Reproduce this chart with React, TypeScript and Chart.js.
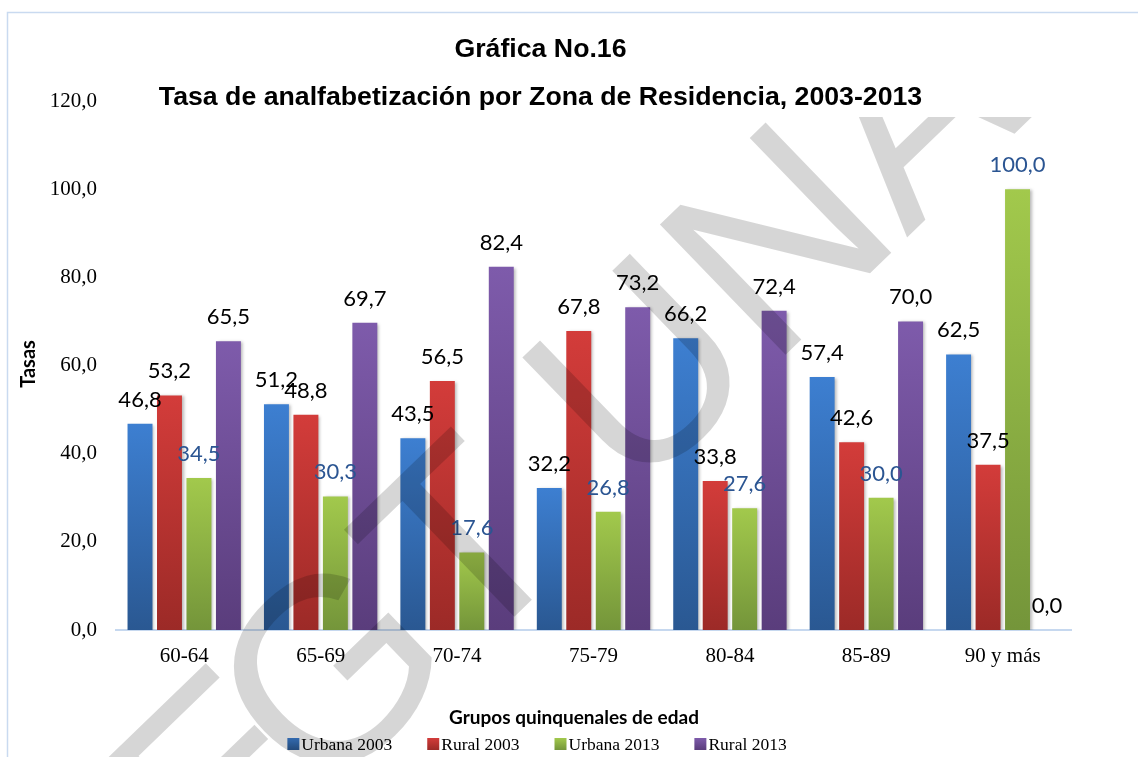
import React, { useEffect, useRef } from 'react';
import { Chart, registerables } from 'chart.js';

Chart.register(...registerables);

const categories = ['60-64', '65-69', '70-74', '75-79', '80-84', '85-89', '90 y más'];
const urbana2003 = [46.8, 51.2, 43.5, 32.2, 66.2, 57.4, 62.5];
const rural2003 = [53.2, 48.8, 56.5, 67.8, 33.8, 42.6, 37.5];
const urbana2013 = [34.5, 30.3, 17.6, 26.8, 27.6, 30.0, 100.0];
const rural2013 = [65.5, 69.7, 82.4, 73.2, 72.4, 70.0, 0.0];
const seriesNames = ['Urbana 2003', 'Rural 2003', 'Urbana 2013', 'Rural 2013'];
const yTickValues = [0, 20, 40, 60, 80, 100, 120];

const titleLine1 = 'Gráfica No.16';
const titleLine2 = 'Tasa de analfabetización por Zona de Residencia, 2003-2013';
const yAxisTitle = 'Tasas';
const xAxisTitle = 'Grupos quinquenales de edad';
const watermarkHead = 'E';
const watermarkTail = 'GT UNA';

const palette = [
  { top: '#3d7fd1', bottom: '#2a5892', mid: '#3570b8', label: '#000000' },
  { top: '#d33c3a', bottom: '#9c2a27', mid: '#bb3431', label: '#000000' },
  { top: '#a2c94c', bottom: '#74953a', mid: '#8db243', label: '#2b5592' },
  { top: '#7e5bab', bottom: '#5a3d7c', mid: '#6d4e96', label: '#000000' },
];

const fmt = (v: number) => v.toFixed(1).replace('.', ',');

const gradientFor = (i: number) => (ctx: any) => {
  const p = palette[i];
  const chart = ctx.chart;
  const ys = chart.scales && chart.scales.y;
  if (!ys || ctx.type !== 'data') return p.mid;
  const v = ctx.raw as number;
  const t = ys.getPixelForValue(v);
  const b = ys.getPixelForValue(0);
  if (!isFinite(t) || !isFinite(b) || Math.abs(b - t) < 1) return p.mid;
  const g = chart.ctx.createLinearGradient(0, t, 0, b);
  g.addColorStop(0, p.top);
  g.addColorStop(1, p.bottom);
  return g;
};

const SERIF = '"Liberation Serif", "Times New Roman", serif';
const SANS = '"Liberation Sans", Arial, sans-serif';
const CAL = 'Lato, "Open Sans", sans-serif';

const decorPlugin = {
  id: 'decor',
  beforeDatasetsDraw(chart: any) {
    const ctx = chart.ctx;
    ctx.save();
    ctx.shadowColor = 'rgba(0,0,0,0.28)';
    ctx.shadowBlur = 3;
    ctx.shadowOffsetX = 2;
    ctx.shadowOffsetY = 1;
  },
  afterDatasetsDraw(chart: any) {
    const ctx = chart.ctx;
    ctx.restore();
    ctx.save();
    ctx.font = `22px ${CAL}`;
    ctx.textAlign = 'center';
    ctx.textBaseline = 'alphabetic';
    chart.data.datasets.forEach((ds: any, di: number) => {
      const meta = chart.getDatasetMeta(di);
      ctx.fillStyle = palette[di].label;
      meta.data.forEach((el: any, i: number) => {
        ctx.fillText(fmt(ds.data[i]), el.x, el.y - 17);
      });
    });
    ctx.restore();
  },
  afterDraw(chart: any) {
    const ctx = chart.ctx;
    ctx.save();
    // frame
    ctx.strokeStyle = '#c9daf0';
    ctx.lineWidth = 1.5;
    ctx.beginPath();
    ctx.moveTo(7.5, 800);
    ctx.lineTo(7.5, 12.5);
    ctx.lineTo(1200, 12.5);
    ctx.stroke();

    // titles
    ctx.fillStyle = '#000';
    ctx.textAlign = 'center';
    ctx.textBaseline = 'alphabetic';
    ctx.font = `bold 26.7px ${SANS}`;
    ctx.fillText(titleLine1, 540.5, 57);
    ctx.fillText(titleLine2, 540.5, 105);

    // y axis title
    ctx.save();
    ctx.translate(35, 364);
    ctx.rotate(-Math.PI / 2);
    ctx.font = `bold 20px ${CAL}`;
    ctx.fillText(yAxisTitle, 0, 0);
    ctx.restore();

    // x axis title
    ctx.font = `bold 19px ${CAL}`;
    ctx.fillText(xAxisTitle, 574, 724);

    // legend
    ctx.font = `17.5px ${SERIF}`;
    const box = 12, gap = 2, spacing = 35;
    const widths = seriesNames.map((n) => box + gap + ctx.measureText(n).width);
    const total = widths.reduce((a, b) => a + b, 0) + spacing * (widths.length - 1);
    let x = 537 - total / 2;
    ctx.textAlign = 'left';
    seriesNames.forEach((n, i) => {
      const g = ctx.createLinearGradient(0, 738, 0, 750);
      g.addColorStop(0, palette[i].top);
      g.addColorStop(1, palette[i].bottom);
      ctx.fillStyle = g;
      ctx.fillRect(x, 738, box, box);
      ctx.fillStyle = '#000';
      ctx.fillText(n, x + box + gap, 750);
      x += widths[i] + spacing;
    });

    // watermark
    ctx.beginPath();
    ctx.rect(8, 117, 1130, 640);
    ctx.clip();
    ctx.translate(192, 928);
    ctx.rotate((-44 * Math.PI) / 180);
    ctx.font = `263px ${SANS}`;
    ctx.fillStyle = 'rgba(0,0,0,0.16)';
    ctx.textAlign = 'left';
    const headW = ctx.measureText(watermarkHead).width;
    ctx.fillText(watermarkHead, 35, 0);
    ctx.fillText(watermarkTail, headW, 0);
    ctx.restore();
  },
};

export default function App() {
  const ref = useRef<HTMLCanvasElement | null>(null);
  useEffect(() => {
    if (!ref.current) return;
    const chart = new Chart(ref.current, {
      type: 'bar',
      data: {
        labels: categories,
        datasets: [urbana2003, rural2003, urbana2013, rural2013].map((d, i) => ({
          label: seriesNames[i],
          data: d,
          backgroundColor: gradientFor(i),
          borderWidth: 0,
          barPercentage: 0.847,
          categoryPercentage: 0.864,
        })),
      },
      options: {
        responsive: false,
        animation: false,
        devicePixelRatio: 1,
        layout: { padding: { left: 0, top: 101, right: 67, bottom: 0 } },
        plugins: {
          legend: { display: false },
          title: { display: false },
          tooltip: { enabled: false },
        },
        scales: {
          x: {
            grid: { display: false, drawTicks: false },
            border: { display: true, color: '#c6d8ef', width: 2 },
            ticks: {
              font: { family: SERIF, size: 21 },
              color: '#000',
              padding: 14,
              maxRotation: 0,
            },
            afterFit: (s: any) => { s.height = 127; },
          },
          y: {
            min: 0,
            max: 120,
            afterBuildTicks: (s: any) => { s.ticks = yTickValues.map((v) => ({ value: v })); },
            grid: { display: false, drawTicks: false },
            border: { display: false },
            ticks: {
              font: { family: SERIF, size: 21 },
              color: '#000',
              padding: 19,
              callback: (v: any) => fmt(Number(v)),
            },
            afterFit: (s: any) => { s.width = 116; },
          },
        },
      },
      plugins: [decorPlugin],
    });
    return () => chart.destroy();
  }, []);
  return (
    <div style={{ position: 'fixed', left: 0, top: 0, width: 1138, height: 757, background: '#fff' }}>
      <canvas ref={ref} width={1138} height={757} />
    </div>
  );
}
